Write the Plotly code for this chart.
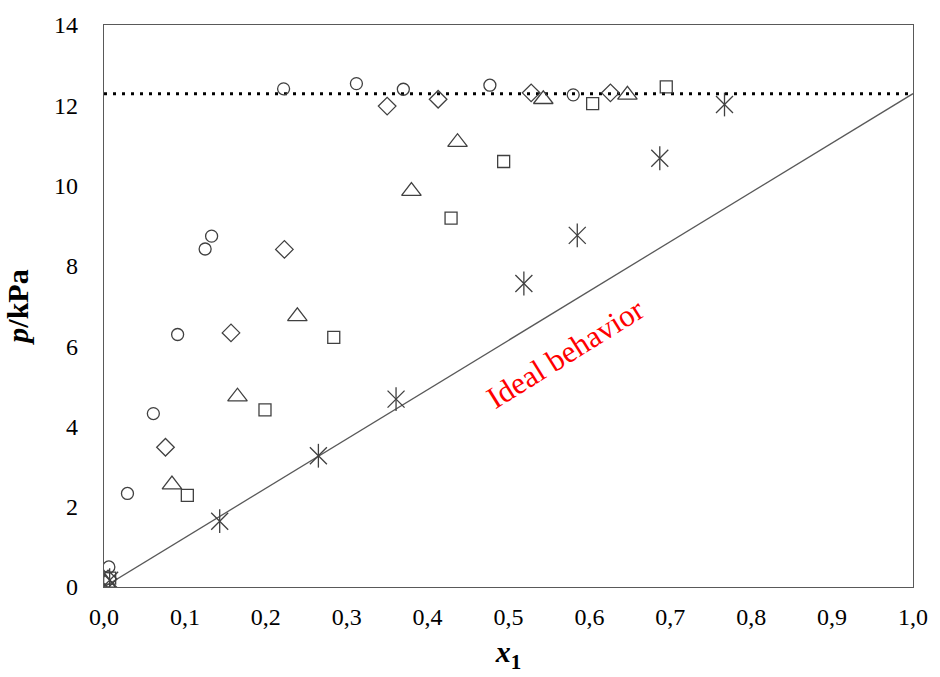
import plotly.graph_objects as go

# Data (x1 mole fraction, p in kPa)
circle_x = [0.006, 0.029, 0.061, 0.091, 0.125, 0.133, 0.222, 0.312, 0.370, 0.477, 0.580]
circle_y = [0.50, 2.33, 4.32, 6.29, 8.42, 8.74, 12.41, 12.54, 12.40, 12.50, 12.26]

diamond_x = [0.005, 0.076, 0.157, 0.223, 0.350, 0.413, 0.528, 0.626]
diamond_y = [0.20, 3.48, 6.33, 8.41, 11.98, 12.15, 12.31, 12.31]

triangle_x = [0.002, 0.084, 0.165, 0.239, 0.380, 0.437, 0.543, 0.647]
triangle_y = [0.10, 2.55, 4.74, 6.74, 9.86, 11.08, 12.15, 12.26]

square_x = [0.007, 0.103, 0.199, 0.284, 0.429, 0.494, 0.604, 0.695]
square_y = [0.22, 2.28, 4.41, 6.22, 9.19, 10.60, 12.04, 12.46]

star_x = [0.007, 0.143, 0.265, 0.361, 0.519, 0.585, 0.687, 0.767]
star_y = [0.17, 1.64, 3.27, 4.68, 7.56, 8.76, 10.68, 12.02]

p_sat = 12.29
ideal_x = [0.0, 1.0]
ideal_y = [0.0, p_sat]
sat_x = [0.0, 1.0]
sat_y = [p_sat, p_sat]

x_ticks = [0.0, 0.1, 0.2, 0.3, 0.4, 0.5, 0.6, 0.7, 0.8, 0.9, 1.0]
y_ticks = [0, 2, 4, 6, 8, 10, 12, 14]

FONT = "Liberation Serif"
MK = "#404040"

fig = go.Figure()

fig.add_trace(go.Scatter(x=sat_x, y=sat_y, mode="lines",
                         line=dict(color="black", width=3, dash="3px,6px")))
fig.add_trace(go.Scatter(x=ideal_x, y=ideal_y, mode="lines",
                         line=dict(color="#595959", width=1.3)))

def mk(x, y, symbol, size):
    fig.add_trace(go.Scatter(x=x, y=y, mode="markers",
                             marker=dict(symbol=symbol, size=size, color=MK,
                                         line=dict(color=MK, width=1.3))))

mk(circle_x, circle_y, "circle-open", 12)
mk(diamond_x, diamond_y, "diamond-open", 13.5)
mk(triangle_x, triangle_y, "triangle-up-open", 17)
mk(square_x, square_y, "square-open", 12)
mk(star_x, star_y, "line-ns-open", 17)
mk(star_x, star_y, "x-thin-open", 17)

fig.add_annotation(x=0.570, y=5.82, text="Ideal behavior", showarrow=False,
                   textangle=-32, font=dict(family=FONT, size=31, color="red"))

fig.update_layout(
    width=940, height=677,
    margin=dict(l=104, r=22, t=22, b=90),
    paper_bgcolor="white", plot_bgcolor="white",
    showlegend=False,
    separators=",.",
    font=dict(family=FONT, size=24, color="black"),
)
fig.update_xaxes(range=[0, 1], tickvals=x_ticks, tickformat=".1f",
                 showgrid=False, zeroline=False, showline=True, mirror=True,
                 linecolor="#595959", linewidth=1.3, ticks="",
                 ticklabelstandoff=8,
                 tickfont=dict(family=FONT, size=24),
                 title=dict(text="<b><i>x</i><sub>1</sub></b>", font=dict(family=FONT, size=30), standoff=12))
fig.update_yaxes(range=[0, 14], tickvals=y_ticks, tickformat="d",
                 showgrid=False, zeroline=False, showline=True, mirror=True,
                 linecolor="#595959", linewidth=1.3, ticks="",
                 ticklabelstandoff=20,
                 tickfont=dict(family=FONT, size=24),
                 title=dict(text="<b><i>p</i>/kPa</b>", font=dict(family=FONT, size=30), standoff=16))

fig.write_html("out.html")
